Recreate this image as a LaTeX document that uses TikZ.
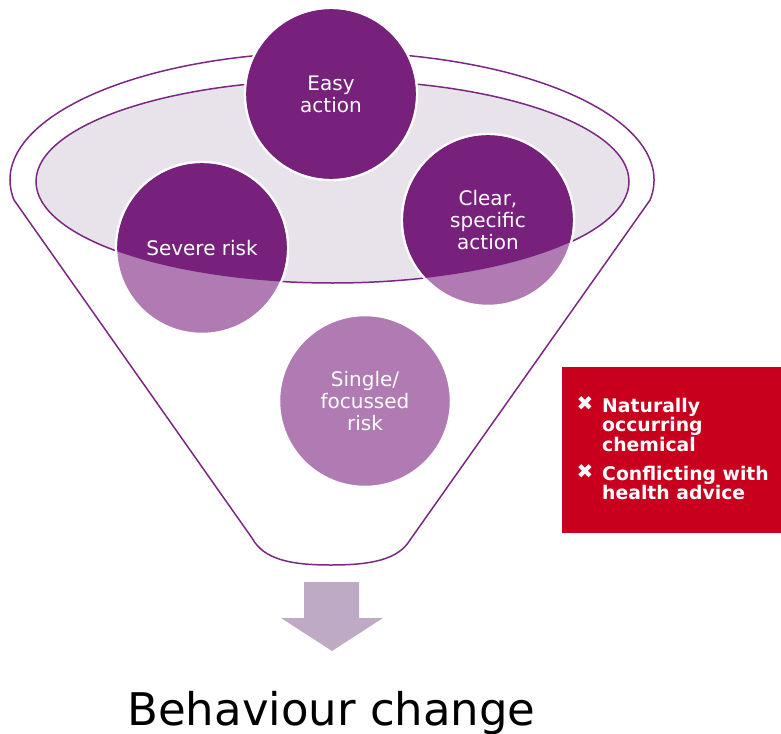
\documentclass[tikz,border=0pt]{standalone}
\usepackage{fontspec}
\setmainfont{DejaVu Sans}
\definecolor{plum}{RGB}{119,33,125}
\definecolor{lilac}{RGB}{176,122,179}
\definecolor{rimgrey}{RGB}{232,227,234}
\definecolor{funnelline}{RGB}{123,40,130}
\definecolor{arrowgrey}{RGB}{190,170,196}
\definecolor{warnred}{RGB}{200,0,30}
\begin{document}
\begin{tikzpicture}[x=1pt,y=-1pt,
  disc/.style={circle, minimum size=172, inner sep=0, outer sep=0,
               fill=lilac, draw=white, line width=2.5},
  disctext/.style={text=white, align=center, inner sep=0,
                   font=\fontsize{20}{22}\selectfont},
  itemtext/.style={text=white, align=left, inner sep=0,
                   font=\bfseries\fontsize{18.8}{19.6}\selectfont},
  bulletmark/.style={text=white, inner sep=0, font=\fontsize{20}{20}\selectfont},
  outline/.style={draw=funnelline, line width=1.5}]
\useasboundingbox (0,0) rectangle (781,733);

% funnel body: upper half of the rim, two sides and the rounded spout
\draw[outline] (252,538) -- (14,200)
  arc[start angle=171, end angle=369, x radius=322, y radius=128]
  -- (410,540) .. controls (398,560) and (370,565) .. (331,565)
  .. controls (292,565) and (264,560) .. (252,538) -- cycle;

% inner rim
\filldraw[fill=rimgrey, outline] (332.5,181.5) ellipse[x radius=296.5, y radius=101.5];

% factor discs
\node[disc] (easy)   at (331,94)  {};
\node[disc] (severe) at (202,248) {};
\node[disc] (clear)  at (488,220) {};
\node[disc] (single) at (365,401) {};

% the parts of the discs above the rim's lower edge are darker
\begin{scope}
  \clip (0,181.5) -- (36,181.5)
    arc[start angle=180, end angle=0, x radius=296.5, y radius=101.5]
    -- (781,181.5) -- (781,0) -- (0,0) -- cycle;
  \fill[plum] (easy.center)   circle[radius=84.8];
  \fill[plum] (severe.center) circle[radius=84.8];
  \fill[plum] (clear.center)  circle[radius=84.8];
\end{scope}

\node[disctext] (easylbl)   at (easy.center)   {Easy\\action};
\node[disctext] (severelbl) at (severe.center) {Severe risk};
\node[disctext] (clearlbl)  at (clear.center)  {Clear,\\specific\\action};
\node[disctext] (singlelbl) at (single.center) {Single/\\focussed\\risk};

% output arrow
\fill[arrowgrey] (304,582) -- (359,582) -- (359,618) -- (383,618)
  -- (332,651) -- (281,618) -- (304,618) -- cycle;

\node[anchor=base, inner sep=0, font=\fontsize{45}{50}\selectfont]
  (outcome) at (331.5,725) {Behaviour change};

% barriers box
\node[fill=warnred, anchor=north west, inner sep=0, outer sep=0,
      minimum width=219, minimum height=166] (caveats) at (562,367) {};
\node[bulletmark] (mark1) at (585,404) {✖};
\node[itemtext, anchor=north west] (item1) at (602,397.7) {Naturally\\occurring\\chemical};
\node[bulletmark] (mark2) at (585,472) {✖};
\node[itemtext, anchor=north west] (item2) at (602,465.7) {Conflicting with\\health advice};
\end{tikzpicture}
\end{document}
